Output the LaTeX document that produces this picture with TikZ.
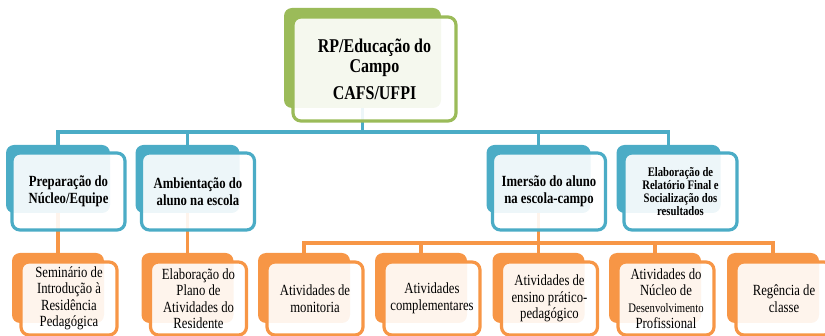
\documentclass[tikz,border=0pt]{standalone}
\usepackage{fontspec}
\newfontfamily\boxfont{Liberation Serif}[FakeStretch=0.82]
\usepackage{tikz}
\definecolor{smgreen}{HTML}{9BBB59}
\definecolor{smblue}{HTML}{4BACC6}
\definecolor{smorange}{HTML}{F79646}
\usetikzlibrary{positioning}
\pgfdeclarelayer{background}
\pgfsetlayers{background,main}
\tikzstyle{back} = [rectangle, rounded corners=8pt, inner sep=0pt]
\tikzstyle{front} = [rectangle, rounded corners=8pt, fill=white, fill opacity=0.9, text opacity=1, line width=3.2pt, align=center, inner sep=0pt]
\tikzstyle{top} = [font={\boxfont\fontsize{19.5}{20}\selectfont\bfseries}]
\tikzstyle{mid} = [font={\boxfont\fontsize{15.5}{16.5}\selectfont\bfseries}]
\tikzstyle{low} = [font={\boxfont\fontsize{15.5}{16.5}\selectfont}]
\tikzstyle{link} = [line width=3.5pt]

\begin{document}
\begin{tikzpicture}[x=1pt, y=-1pt]
    \useasboundingbox (0,0) rectangle (825,336);
    \clip (0,0) rectangle (825,336);

    % Place the blocks
    \node [back, fill=smgreen, minimum width=157pt, minimum height=100pt] (rpb) at (362.5,58) {};
    \node [front, draw=smgreen, top, minimum width=163pt, minimum height=104pt] (rp) at ([shift={(12,11)}]rpb.center) {RP/Educação do\\Campo\\[7pt]CAFS/UFPI};

    \node [back, fill=smblue, minimum width=104pt, minimum height=68pt] (prepb) at (58,179) {};
    \node [front, draw=smblue, mid, minimum width=113pt, minimum height=77pt] (prep) at ([shift={(10.5,12.5)}]prepb.center) {Preparação do\\Núcleo/Equipe};
    \node [back, fill=smblue, minimum width=104pt, minimum height=68pt] (ambb) at (187.5,179) {};
    \node [front, draw=smblue, mid, minimum width=113pt, minimum height=77pt] (amb) at ([shift={(10.5,12.5)}]ambb.center) {Ambientação do\\aluno na escola};
    \node [back, fill=smblue, minimum width=104pt, minimum height=68pt] (imerb) at (538.5,179) {};
    \node [front, draw=smblue, mid, minimum width=113pt, minimum height=77pt] (imer) at ([shift={(10.5,12.5)}]imerb.center) {Imersão do aluno\\na escola-campo};
    \node [back, fill=smblue, minimum width=104pt, minimum height=68pt] (elabb) at (668.5,179) {};
    \node [front, draw=smblue, minimum width=113pt, minimum height=77pt, font={\boxfont\fontsize{13}{12.8}\selectfont\bfseries}] (elab) at ([shift={(12,12.5)}]elabb.center) {Elaboração de\\Relatório Final e\\Socialização dos\\resultados};

    \node [back, fill=smorange, minimum width=92pt, minimum height=70pt] (seminb) at (58,288) {};
    \node [front, draw=smorange, low, minimum width=96pt, minimum height=73pt] (semin) at ([shift={(11,10.5)}]seminb.center) {Seminário de\\Introdução à\\Residência\\Pedagógica};
    \node [back, fill=smorange, minimum width=92pt, minimum height=70pt] (planob) at (187.5,288) {};
    \node [front, draw=smorange, low, minimum width=96pt, minimum height=73pt] (plano) at ([shift={(11,10.5)}]planob.center) {Elaboração do\\Plano de\\Atividades do\\Residente};
    \node [back, fill=smorange, minimum width=92pt, minimum height=70pt] (monitb) at (304,288) {};
    \node [front, draw=smorange, low, minimum width=96pt, minimum height=73pt] (monit) at ([shift={(11,10.5)}]monitb.center) {Atividades de\\monitoria};
    \node [back, fill=smorange, minimum width=92pt, minimum height=70pt] (complb) at (421,288) {};
    \node [front, draw=smorange, low, minimum width=96pt, minimum height=73pt] (compl) at ([shift={(11,10.5)}]complb.center) {Atividades\\complementares};
    \node [back, fill=smorange, minimum width=92pt, minimum height=70pt] (ensinob) at (538.5,288) {};
    \node [front, draw=smorange, low, minimum width=96pt, minimum height=73pt] (ensino) at ([shift={(11,10.5)}]ensinob.center) {Atividades de\\ensino prático-\\pedagógico};
    \node [back, fill=smorange, minimum width=92pt, minimum height=70pt] (nucleob) at (655,288) {};
    \node [front, draw=smorange, low, minimum width=96pt, minimum height=73pt] (nucleo) at ([shift={(11,10.5)}]nucleob.center) {Atividades do\\Núcleo de\\{\fontsize{13}{15}\selectfont Desenvolvimento}\\Profissional};
    \node [back, fill=smorange, minimum width=92pt, minimum height=70pt] (regb) at (773,288) {};
    \node [front, draw=smorange, low, minimum width=96pt, minimum height=73pt] (reg) at ([shift={(11,10.5)}]regb.center) {Regência de\\classe};

    % Connect the nodes
    \begin{pgfonlayer}{background}
    \draw [link, smblue] (rpb.south) -- ++(0,24) -| (prepb.north);
    \draw [link, smblue] (rpb.south) -- ++(0,24) -| (ambb.north);
    \draw [link, smblue] (rpb.south) -- ++(0,24) -| (imerb.north);
    \draw [link, smblue] (rpb.south) -- ++(0,24) -| (elabb.north);
    \draw [link, smorange] (prepb.south) -- (seminb.north);
    \draw [link, smorange] (ambb.south) -- (planob.north);
    \draw [link, smorange] (imerb.south) -- ++(0,30) -| (monitb.north);
    \draw [link, smorange] (imerb.south) -- ++(0,30) -| (complb.north);
    \draw [link, smorange] (imerb.south) -- ++(0,30) -| (ensinob.north);
    \draw [link, smorange] (imerb.south) -- ++(0,30) -| (nucleob.north);
    \draw [link, smorange] (imerb.south) -- ++(0,30) -| (regb.north);
    \end{pgfonlayer}
\end{tikzpicture}
\end{document}
